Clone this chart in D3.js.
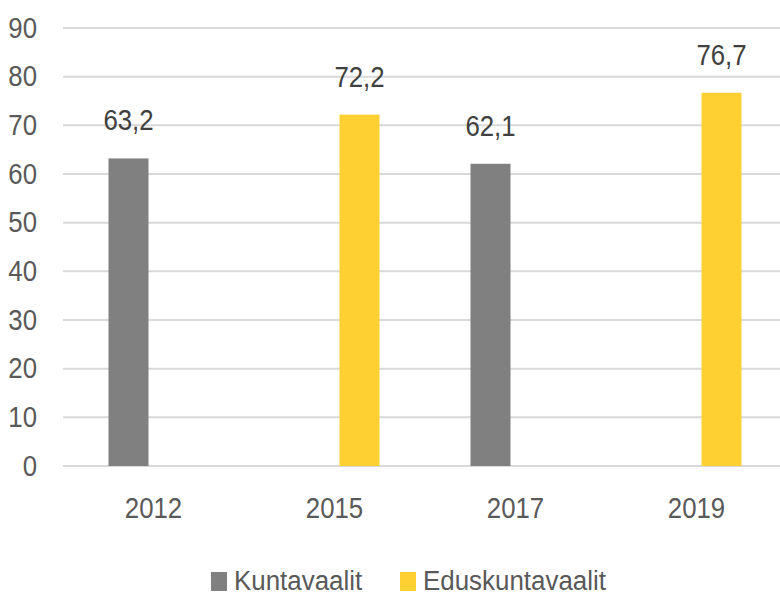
<!DOCTYPE html>
<html>
<head>
<meta charset="utf-8">
<script src="https://cdn.jsdelivr.net/npm/d3@7"></script>
<style>
  body { margin: 0; background: #fff; }
  text { font-family: "Liberation Sans", sans-serif; }
</style>
</head>
<body>
<div id="chart"></div>
<script>
"use strict";
// chart data
const years = ["2012", "2015", "2017", "2019"];
const seriesNames = ["Kuntavaalit", "Eduskuntavaalit"];
const kuntavaalit = [63.2, null, 62.1, null];
const eduskuntavaalit = [null, 72.2, null, 76.7];
const yTicks = [0, 10, 20, 30, 40, 50, 60, 70, 80, 90];

const colors = ["#808080", "#ffd032"];
const W = 780, H = 597;
const squeeze = "scale(0.86,1)"; // narrow the font a bit, the original is condensed

const svg = d3.select("#chart").append("svg")
	.attr("width", W)
	.attr("height", H);

const x = d3.scaleBand()
	.domain(years)
	.range([63, 787]);

const x1 = d3.scaleBand()
	.domain(seriesNames)
	.range([x.bandwidth() / 2 - 45, x.bandwidth() / 2 + 45])
	.paddingInner(0.2);

const y = d3.scaleLinear()
	.domain([0, 90])
	.range([466, 28]);

// gridlines
svg.append("g")
	.selectAll("line")
	.data(yTicks)
	.enter()
	.append("line")
	.attr("x1", 63)
	.attr("x2", W)
	.attr("y1", d => y(d))
	.attr("y2", d => y(d))
	.style("stroke", "#d9d9d9")
	.style("stroke-width", "2px");

// y axis labels
const yAxis = d3.axisLeft(y).tickValues(yTicks).tickSize(0).tickPadding(0);
const yg = svg.append("g")
	.attr("transform", "translate(37,0)")
	.call(yAxis);
yg.select(".domain").remove();
yg.selectAll("text")
	.attr("dy", "0.3em")
	.attr("transform", squeeze)
	.style("font-size", "30px")
	.style("fill", "#595959");

// x axis labels
const xAxis = d3.axisBottom(x).tickSize(0).tickPadding(0);
const xg = svg.append("g")
	.attr("transform", "translate(0,518)")
	.call(xAxis);
xg.select(".domain").remove();
xg.selectAll("text")
	.attr("dy", 0)
	.attr("transform", squeeze)
	.style("font-size", "30px")
	.style("fill", "#595959");

// bars
const series = [kuntavaalit, eduskuntavaalit];
series.forEach(function (values, si) {
	const pts = years.map((yr, i) => ({ year: yr, value: values[i] })).filter(d => d.value != null);
	const g = svg.append("g");
	g.selectAll("rect")
		.data(pts)
		.enter()
		.append("rect")
		.attr("x", d => x(d.year) + x1(seriesNames[si]))
		.attr("width", x1.bandwidth())
		.attr("y", d => y(d.value))
		.attr("height", d => y(0) - y(d.value))
		.style("fill", colors[si]);

	g.selectAll("text")
		.data(pts)
		.enter()
		.append("text")
		.attr("transform", d => "translate(" + (x(d.year) + x1(seriesNames[si]) + x1.bandwidth() / 2) + "," + (y(d.value) - 28) + ") " + squeeze)
		.attr("text-anchor", "middle")
		.style("font-size", "30px")
		.style("fill", "#404040")
		.text(d => String(d.value).replace(".", ","));
});

// legend
const legendX = [211, 400];
const legend = svg.append("g");
seriesNames.forEach(function (name, i) {
	legend.append("rect")
		.attr("x", legendX[i])
		.attr("y", 572)
		.attr("width", 16)
		.attr("height", 19)
		.style("fill", colors[i]);
	legend.append("text")
		.attr("transform", "translate(" + (legendX[i] + 23) + ",590) scale(0.96,1)")
		.style("font-size", "27px")
		.style("fill", "#595959")
		.text(name);
});
</script>
</body>
</html>
